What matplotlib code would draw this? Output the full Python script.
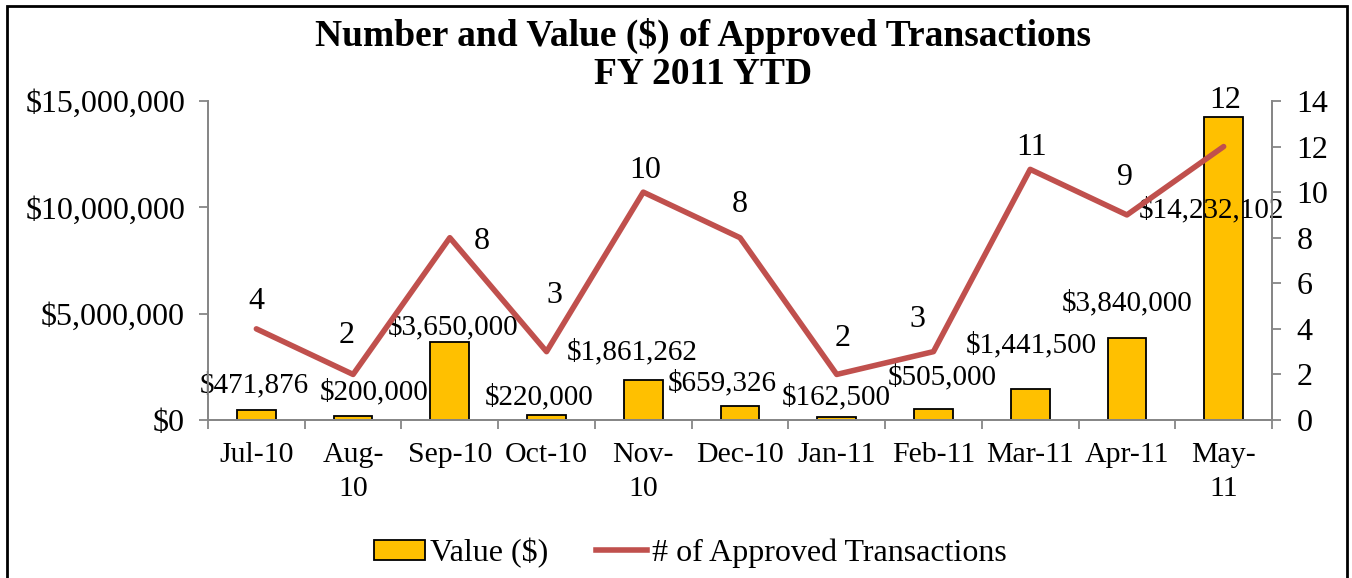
import matplotlib.pyplot as plt
from matplotlib.lines import Line2D

months = ['Jul-10', 'Aug-\n10', 'Sep-10', 'Oct-10', 'Nov-\n10', 'Dec-10',
          'Jan-11', 'Feb-11', 'Mar-11', 'Apr-11', 'May-\n11']
values = [471876, 200000, 3650000, 220000, 1861262, 659326,
          162500, 505000, 1441500, 3840000, 14232102]
counts = [4, 2, 8, 3, 10, 8, 2, 3, 11, 9, 12]

# label nudges in pixels (Excel placed them by hand)
bar_off = [(-2, 25), (21, 24), (3, 15), (-7, 18), (-11, 28), (-18, 23),
           (0, 19), (9, 32), (1, 44), (0, 35), (-12, -93)]
cnt_off = [(0, 27), (-6, 39), (32, -4), (8, 56), (2, 22), (0, 33),
           (6, 36), (-16, 32), (1, 22), (-2, 37), (2, 46)]

plt.rcParams['font.family'] = ['Liberation Serif', 'DejaVu Serif']
fs = 23
fs_lab = 21
gold = '#FFC000'
red = '#C0504D'
grey = '#868686'

fig = plt.figure(figsize=(13.52, 5.78), dpi=100)
ax = fig.add_axes([208/1352, 1 - 420/578, 1064/1352, 319/578])
ax2 = ax.twinx()

x = list(range(len(months)))
ax.bar(x, values, width=0.4, color=gold, edgecolor='black', linewidth=1.3, zorder=2)
ax2.plot(x, counts, color=red, lw=4, solid_capstyle='round', zorder=3)

ax.set_xlim(-0.5, len(months) - 0.5)
ax.set_ylim(0, 15000000)
ax.set_yticks([0, 5000000, 10000000, 15000000])
ax.set_yticklabels(['$0', '$5,000,000', '$10,000,000', '$15,000,000'])
ax2.set_ylim(0, 14)
ax2.set_yticks(range(0, 15, 2))

ax.set_xticks([i - 0.5 for i in range(len(months) + 1)])
ax.set_xticklabels([])
ax.set_xticks(x, minor=True)
ax.set_xticklabels(months, minor=True, fontsize=21.5, linespacing=1.4)
ax.tick_params(axis='x', which='minor', length=0, pad=16)
ax.tick_params(axis='x', which='major', length=6.5, color=grey, width=1.3)
ax.tick_params(axis='y', labelsize=fs, length=6.5, color=grey, width=1.3, pad=10)
ax2.tick_params(axis='y', labelsize=fs, length=6.5, color=grey, width=1.3, pad=11)

for a in (ax, ax2):
    a.spines['top'].set_visible(False)
    for s in ('left', 'right', 'bottom'):
        a.spines[s].set_color(grey)
        a.spines[s].set_linewidth(1.3)

for i, v in enumerate(values):
    ax.annotate('${:,}'.format(v), (i, v), xytext=bar_off[i], textcoords='offset pixels',
                ha='center', va='center', fontsize=fs_lab, zorder=5)
for i, c in enumerate(counts):
    ax2.annotate(str(c), (i, c), xytext=cnt_off[i], textcoords='offset pixels',
                 ha='center', va='center', fontsize=fs, zorder=5)

fig.text(703/1352, 1 - 55/578, 'Number and Value ($) of Approved Transactions\nFY 2011 YTD',
         ha='center', va='center', fontsize=27, fontweight='bold', linespacing=1.1)

handles = [plt.Rectangle((0, 0), 1, 1, facecolor=gold, edgecolor='black', linewidth=1.3),
           Line2D([0], [0], color=red, lw=4)]
fig.legend(handles, ['Value ($)', '# of Approved Transactions'], loc='center',
           bbox_to_anchor=(690/1352, 1 - 553/578), ncol=2, frameon=False, fontsize=23,
           handlelength=1.6, handleheight=0.6, handletextpad=0.15, columnspacing=1.5)

fig.patches.append(plt.Rectangle((7/1352, -0.05), 1340/1352, 1.05 - 6/578,
                                 transform=fig.transFigure, fill=False,
                                 edgecolor='black', linewidth=2))

fig.savefig('out.png', dpi=100)
